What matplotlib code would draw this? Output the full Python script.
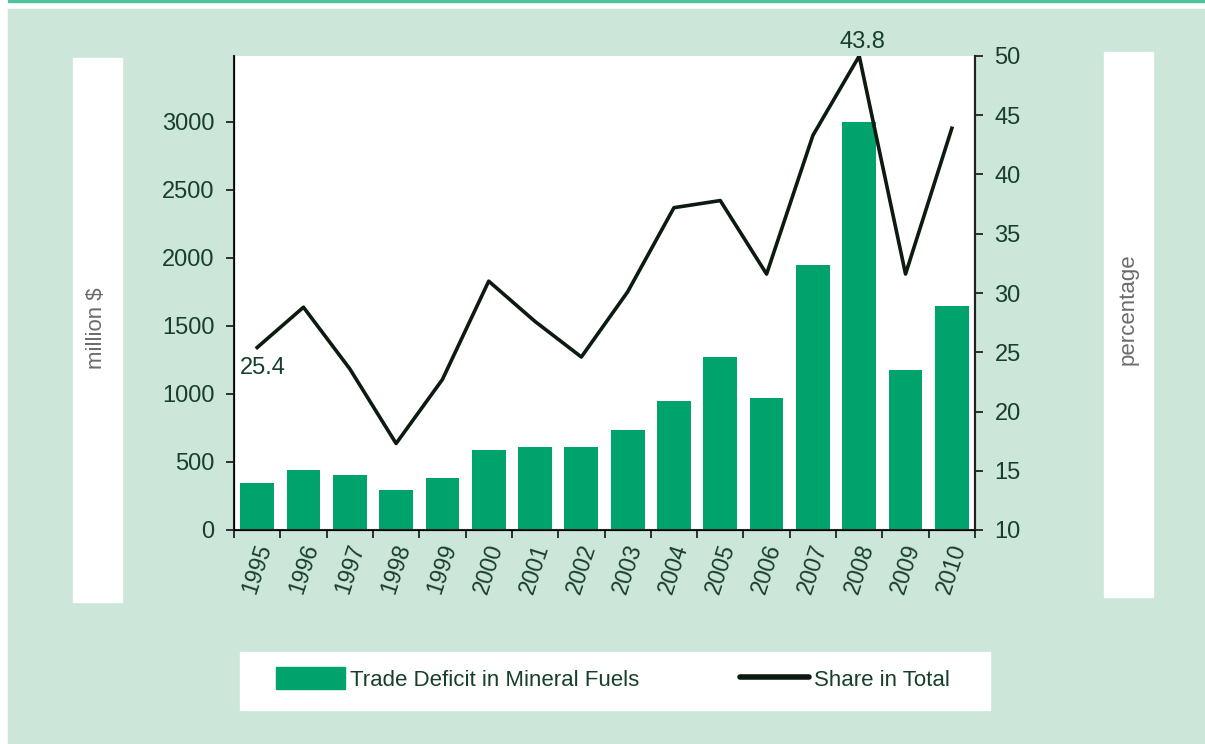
import numpy as np
import matplotlib
matplotlib.use("Agg")
import matplotlib.pyplot as plt
from matplotlib.patches import Rectangle
from matplotlib.lines import Line2D

plt.rcParams['font.family'] = ['Liberation Sans Narrow', 'Liberation Sans', 'DejaVu Sans']

years = ['1995', '1996', '1997', '1998', '1999', '2000', '2001', '2002',
         '2003', '2004', '2005', '2006', '2007', '2008', '2009', '2010']
deficit = [345, 440, 405, 295, 380, 590, 610, 610,
           735, 950, 1270, 970, 1950, 3000, 1180, 1645]
share = [25.4, 28.8, 23.6, 17.3, 22.7, 31.0, 27.6, 24.6,
         30.1, 37.2, 37.8, 31.6, 43.3, 50.0, 31.6, 43.9]
left_ticks = [0, 500, 1000, 1500, 2000, 2500, 3000]
right_ticks = [10, 15, 20, 25, 30, 35, 40, 45, 50]

txt = '#173f2c'
bar_c = '#00a36b'
line_c = '#0c1a10'
panel = '#cde6da'

fig = plt.figure(figsize=(12.05, 7.44), dpi=100)
W, H = 1205, 744

def px(x0, y0, x1, y1):
    return (x0 / W, 1 - y1 / H, (x1 - x0) / W, (y1 - y0) / H)

def box(x0, y0, x1, y1, c):
    r = px(x0, y0, x1, y1)
    fig.patches.append(Rectangle(r[:2], r[2], r[3], transform=fig.transFigure,
                                 color=c, zorder=-5))

# background panel, top rule, white boxes
box(8, 9, 1205, 744, panel)
box(8, 0, 1205, 2, '#50c29b')
box(73, 58, 122, 602, 'white')
box(1104, 52, 1153, 597, 'white')
box(240, 652, 990, 710, 'white')

fig.text(97 / W, 1 - 328 / H, 'million $', rotation=90, ha='center', va='center',
         fontsize=16, color='#6b6b6b')
fig.text(1128 / W, 1 - 309 / H, 'percentage', rotation=90, ha='center', va='center',
         fontsize=16, color='#6b6b6b')

ax = fig.add_axes(px(234, 56, 975, 530))
ax.set_facecolor('white')
x = np.arange(len(years))
ax.bar(x, deficit, width=0.73, color=bar_c, zorder=2)
ax.set_xlim(-0.5, len(years) - 0.5)
ax.set_ylim(0, 3485)
ax.set_yticks(left_ticks)
ax.set_xticks(x)
ax.set_xticklabels(years, rotation=72, ha='center', va='top', color=txt, fontsize=16.5)
ax.set_xticks(np.arange(-0.5, len(years)), minor=True)
ax.tick_params(axis='x', which='major', length=0, pad=8)
ax.tick_params(axis='x', which='minor', length=6, width=1.3, direction='out', color='#222222')
ax.tick_params(axis='y', length=6, width=1.3, color='#222222', labelcolor=txt, labelsize=17, pad=8)
ax.spines['top'].set_visible(False)
for s in ['left', 'bottom', 'right']:
    ax.spines[s].set_linewidth(1.5)
    ax.spines[s].set_color('#222222')

ax2 = ax.twinx()
ax2.plot(x, share, color=line_c, linewidth=2.6, zorder=3)
ax2.set_ylim(10, 50)
ax2.set_yticks(right_ticks)
ax2.tick_params(axis='y', length=6, width=1.3, color='#222222', labelcolor=txt, labelsize=17, pad=8)
ax2.spines['top'].set_visible(False)
ax2.spines['right'].set_linewidth(1.5)
ax2.spines['right'].set_color('#222222')
ax2.annotate('25.4', (x[0], share[0]), xytext=(4, -7), textcoords='offset points',
             ha='center', va='top', fontsize=17, color=txt, annotation_clip=False)
ax2.annotate('43.8', (x[13], share[13]), xytext=(2, 2), textcoords='offset points',
             ha='center', va='bottom', fontsize=17, color=txt, annotation_clip=False)

# legend, two entries placed separately
leg_kw = dict(frameon=False, fontsize=16, labelcolor=txt, handletextpad=0.25,
              borderaxespad=0, borderpad=0, handleheight=1.1)
l1 = fig.legend([Rectangle((0, 0), 1, 1, color=bar_c)], ['Trade Deficit in Mineral Fuels'],
                loc='center left', bbox_to_anchor=(276 / W, 1 - 679 / H),
                handlelength=3.1, **leg_kw)
l2 = fig.legend([Line2D([0], [0], color=line_c, linewidth=4, solid_capstyle='round')],
                ['Share in Total'], loc='center left', bbox_to_anchor=(740 / W, 1 - 679 / H),
                handlelength=3.1, **leg_kw)

fig.savefig('out.png', dpi=100)
